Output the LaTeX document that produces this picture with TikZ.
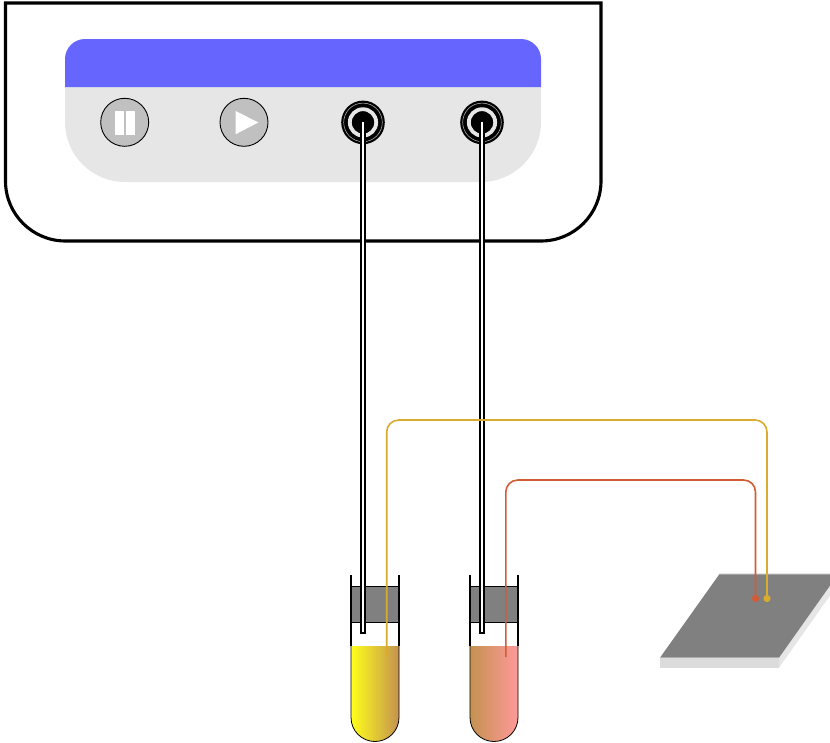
\documentclass[tikz,border=0pt]{standalone}
\definecolor{panelgrey}{HTML}{E6E6E6}
\definecolor{panelblue}{HTML}{6666FF}
\definecolor{btngrey}{HTML}{C0C0C0}
\definecolor{plategrey}{HTML}{808080}
\definecolor{platefront}{HTML}{DCDCDC}
\definecolor{wiregold}{HTML}{D9AB2E}
\definecolor{wirered}{HTML}{D25C36}
\definecolor{liqtan}{HTML}{C49250}
\definecolor{liqpink}{HTML}{FF9999}
\definecolor{liqyellow}{HTML}{FFFF1A}
\begin{document}
\begin{tikzpicture}[x=1pt,y=-1pt,
  btn/.style={circle,draw=black,line width=0.9pt,fill=btngrey,minimum size=48pt,inner sep=0pt},
  jack/.style={circle,fill=black,minimum size=43.6pt,inner sep=0pt},
  capouter/.style={line width=6.8pt,draw=black},
  capinner/.style={line width=2.9pt,draw=white},
  wall/.style={line width=1.5pt,draw=black},
  septum/.style={fill=plategrey,draw=black,line width=1.4pt},
  wire/.style={line width=1.6pt,rounded corners=12pt},
  dot/.style={circle,inner sep=0pt,minimum size=7.2pt}]
\useasboundingbox (0,0) rectangle (830,742);
\clip (0,0) rectangle (830,742);
% instrument body
\draw[line width=3.1pt,line join=miter] (601,3) -- (5.5,3) [rounded corners=60pt] -- (5.5,241) -- (601,241) [sharp corners] -- (601,3) -- cycle;
% panel
\fill[panelgrey] (65,87) [rounded corners=60pt] -- (65,182) -- (541,182) [sharp corners] -- (541,87) -- cycle;
\fill[panelblue] (65,87) [rounded corners=20pt] -- (65,39) -- (541,39) [sharp corners] -- (541,87) -- cycle;
% buttons
\node[btn] (pause) at (124.7,122.3) {};
\node[btn] (play) at (244,122.3) {};
\fill[white] (115,111) rectangle (124.3,135);
\fill[white] (125.7,111) rectangle (135,135);
\fill[white] (235.7,111) -- (258.3,122.5) -- (235.7,134.2) -- cycle;
% jacks
\foreach \n/\x in {jackA/363,jackB/482}{
  \node[jack] (\n) at (\x,122.4) {};
  \draw[btngrey,line width=0.5pt] (\n.center) circle[radius=19.3];
  \draw[panelgrey,line width=3.8pt] (\n.center) circle[radius=13.2];
}
% tubes: liquid
\shade[left color=liqyellow,right color=liqtan] (351,646) -- (351,717.5) arc[start angle=180,end angle=0,radius=24] -- (399,646) -- cycle;
\shade[left color=liqtan,right color=liqpink] (470,646) -- (470,717.5) arc[start angle=180,end angle=0,radius=24] -- (518,646) -- cycle;
\draw[black,line width=0.8pt] (351,646) -- (351,717.5) arc[start angle=180,end angle=0,radius=24] -- (399,646);
\draw[black,line width=0.8pt] (470,646) -- (470,717.5) arc[start angle=180,end angle=0,radius=24] -- (518,646);
% tube walls
\foreach \a/\b in {351/399,470/518}{
  \draw[wall] (\a,575) -- (\a,646);
  \draw[wall] (\b,575) -- (\b,646);
  \draw[septum] (\a,586.5) rectangle (\b,622.5);
}
% capillaries
\coordinate (capA) at (363,634);
\coordinate (capAi) at (363,632.2);
\coordinate (capB) at (482,634);
\coordinate (capBi) at (482,632.2);
\draw[capouter] (jackA.center) -- (capA);
\draw[capinner] (jackA.center) -- (capAi);
\draw[capouter] (jackB.center) -- (capB);
\draw[capinner] (jackB.center) -- (capBi);
% plate
\fill[platefront] (660,657.7) rectangle (779,667.7);
\fill[panelgrey] (779,657.7) -- (779,667.7) -- (840,581.5) -- (840,571) -- cycle;
\fill[panelgrey] (719.3,573.4) rectangle (838,575);
\fill[plategrey] (660,657.7) -- (719.3,574.3) -- (838,574.3) -- (779,657.7) -- cycle;
% wires
\node[dot,fill=wirered] (padR) at (755.5,598.5) {};
\node[dot,fill=wiregold] (padG) at (767,598.5) {};
\coordinate (wireG) at (386.7,657);
\coordinate (wireR) at (505.8,657);
\draw[wire,wiregold] (wireG) -- (wireG |- 0,420) -- (padG |- 0,420) -- (padG.center);
\draw[wire,wirered] (wireR) -- (wireR |- 0,480) -- (padR |- 0,480) -- (padR.center);
\end{tikzpicture}
\end{document}
